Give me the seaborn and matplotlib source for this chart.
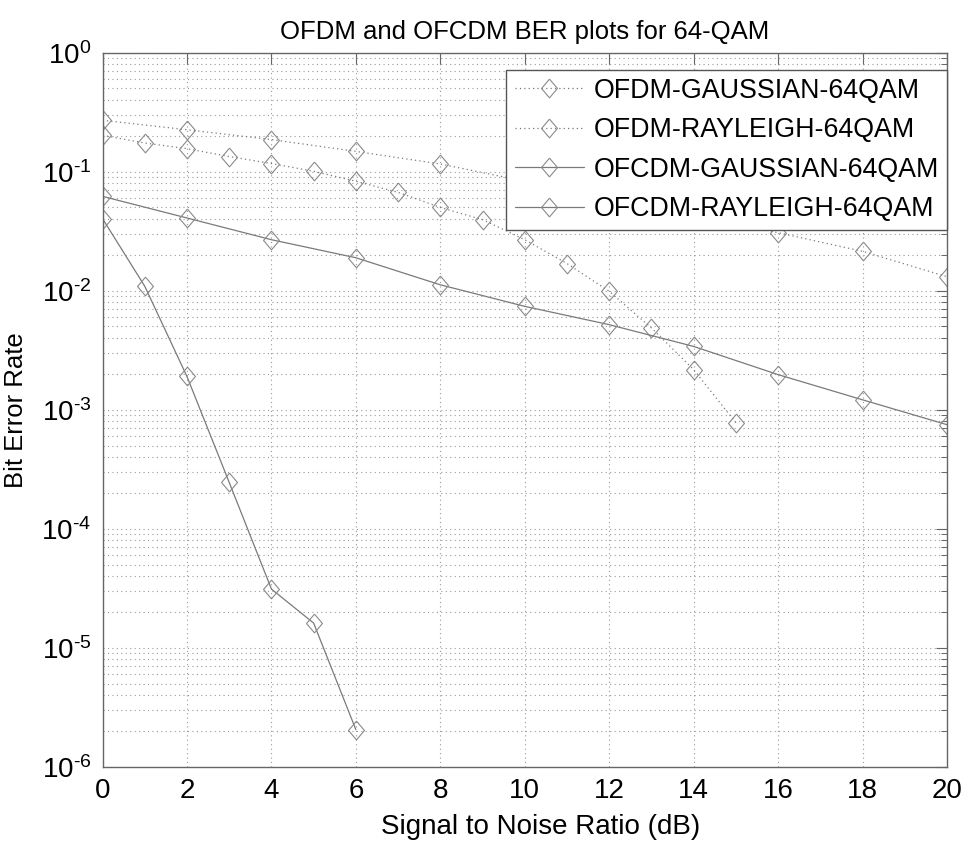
import matplotlib
matplotlib.use("Agg")
import matplotlib.pyplot as plt
import seaborn as sns
import pandas as pd
import numpy as np
from matplotlib.ticker import LogLocator, NullFormatter, NullLocator, FuncFormatter

# ------------------------------------------------------------- #
#                 DATOS                     #
# ------------------------------------------------------------- #

snr_ofdm_gauss = [0, 2, 4, 6, 8, 10, 12, 14, 16, 18, 20]
ber_ofdm_gauss = [0.27, 0.225, 0.186, 0.148, 0.116, 0.083, 0.060, 0.043, 0.0307, 0.0214, 0.0131]

snr_ofdm_ray = [0, 1, 2, 3, 4, 5, 6, 7, 8, 9, 10, 11, 12, 13, 14, 15]
ber_ofdm_ray = [0.202, 0.174, 0.156, 0.134, 0.117, 0.1007, 0.083, 0.067, 0.050, 0.0395,
                0.0268, 0.0169, 0.00987, 0.00486, 0.00217, 0.000777]

snr_ofcdm_gauss = [0, 2, 4, 6, 8, 10, 12, 14, 16, 18, 20]
ber_ofcdm_gauss = [0.062, 0.0408, 0.0268, 0.0189, 0.0112, 0.00738, 0.00518, 0.0034,
                   0.00197, 0.00121, 0.000748]

snr_ofcdm_ray = [0, 1, 2, 3, 4, 5, 6]
ber_ofcdm_ray = [0.0403, 0.0109, 0.0019, 0.000245, 3.11e-5, 1.61e-5, 2.05e-6]

labels = ["OFDM-GAUSSIAN-64QAM", "OFDM-RAYLEIGH-64QAM",
          "OFCDM-GAUSSIAN-64QAM", "OFCDM-RAYLEIGH-64QAM"]

# ------------------------------------------------------------- #
#                          ESTILO                               #
# ------------------------------------------------------------- #

sns.set_theme(style="white")
plt.rcParams["font.family"] = ["Liberation Sans", "DejaVu Sans"]
plt.rcParams["mathtext.fontset"] = "custom"
plt.rcParams["mathtext.rm"] = "Liberation Sans"
plt.rcParams["mathtext.it"] = "Liberation Sans:italic"
plt.rcParams["mathtext.bf"] = "Liberation Sans:bold"
plt.rcParams["text.color"] = "black"
plt.rcParams["axes.labelcolor"] = "black"

diamond = [(0, 1), (0.85, 0), (0, -1), (-0.85, 0), (0, 1)]
line_col = "#7a7a7a"

series = [
    (snr_ofdm_gauss, ber_ofdm_gauss, (0, (1, 2.5))),
    (snr_ofdm_ray, ber_ofdm_ray, (0, (1, 2.5))),
    (snr_ofcdm_gauss, ber_ofcdm_gauss, "-"),
    (snr_ofcdm_ray, ber_ofcdm_ray, "-"),
]

fig = plt.figure(figsize=(9.69, 8.42), dpi=100)
ax = fig.add_axes([0.1058, 0.0894, 0.8715, 0.8481])

for (x, y, ls), lab in zip(series, labels):
    df = pd.DataFrame({"snr": x, "ber": y})
    sns.lineplot(data=df, x="snr", y="ber", ax=ax, estimator=None, sort=False,
                 color=line_col, linestyle=ls, linewidth=0.9,
                 marker=diamond, markersize=13.5, markerfacecolor="none",
                 markeredgecolor="#8a8a8a", markeredgewidth=0.8, label=lab)

ax.set_yscale("log")
ax.set_xlim(0, 20)
ax.set_ylim(1e-6, 1)
ax.set_xticks(range(0, 21, 2))
ax.xaxis.set_minor_locator(NullLocator())
ax.yaxis.set_major_locator(LogLocator(base=10, numticks=10))
ax.yaxis.set_minor_locator(LogLocator(base=10, subs=range(2, 10), numticks=100))
ax.yaxis.set_minor_formatter(NullFormatter())


# etiquetas 10^-n con guion corto como en MATLAB
def fmt_pow(v, pos):
    e = int(round(np.log10(v)))
    if e < 0:
        return r"$10^{\text{-}%d}$" % (-e)
    return r"$10^{%d}$" % e


ax.yaxis.set_major_formatter(FuncFormatter(fmt_pow))

# rejilla punteada tipo MATLAB
grid_kw = dict(linestyle=(0, (1, 3)), color="#9a9a9a", linewidth=0.8)
ax.grid(True, which="major", axis="both", **grid_kw)
ax.grid(True, which="minor", axis="y", **grid_kw)

for s in ax.spines.values():
    s.set_color("#666666")
    s.set_linewidth(1.0)

ax.tick_params(which="both", direction="in", top=True, right=True, colors="#666666",
               labelcolor="black", labelsize=20)
ax.tick_params(which="major", length=8, width=0.8, pad=8)
ax.tick_params(which="minor", length=4, width=0.7)

ax.set_title("OFDM and OFCDM BER plots for 64-QAM", fontsize=18.5, pad=10, color="black")
ax.set_xlabel("Signal to Noise Ratio (dB)", fontsize=20, color="black")
ax.xaxis.set_label_coords(0.519, -0.066)
ax.set_ylabel("Bit Error Rate", fontsize=18.5, labelpad=10, color="black")

leg = ax.legend(loc="upper right", bbox_to_anchor=(1.0, 0.976), fontsize=19.3,
                frameon=True, fancybox=False, framealpha=1, edgecolor="#555555",
                handlelength=2.6, handletextpad=0.35, labelspacing=0.5,
                borderpad=0.3, borderaxespad=0)
leg.get_frame().set_linewidth(1.0)
for t in leg.get_texts():
    t.set_color("black")

fig.savefig("out.png", dpi=100)
